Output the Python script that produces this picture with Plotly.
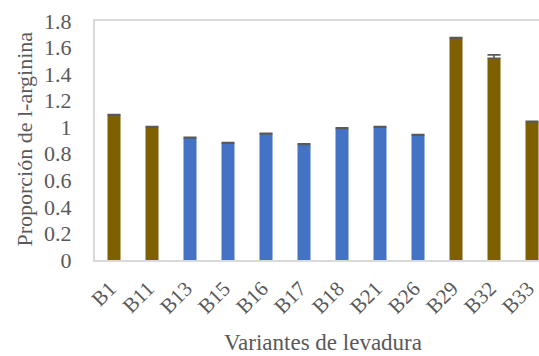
import plotly.graph_objects as go

# Yeast variants and l-arginine ratio (mean and upper error)
variantes = ["B1", "B11", "B13", "B15", "B16", "B17", "B18", "B21", "B26", "B29", "B32", "B33"]
proporcion = [1.09, 1.00, 0.92, 0.88, 0.95, 0.87, 0.99, 1.00, 0.94, 1.67, 1.52, 1.04]
error_sup = [0.005, 0.005, 0.005, 0.005, 0.005, 0.005, 0.005, 0.005, 0.005, 0.005, 0.025, 0.005]
grupo = ["m", "m", "c", "c", "c", "c", "c", "c", "c", "m", "m", "m"]

color_grupo = {"m": "#7F6000", "c": "#4472C4"}
colores = [color_grupo[g] for g in grupo]

y_ticks = [0, 0.2, 0.4, 0.6, 0.8, 1, 1.2, 1.4, 1.6, 1.8]
y_tick_text = ["0", "0.2", "0.4", "0.6", "0.8", "1", "1.2", "1.4", "1.6", "1.8"]

titulo_x = "Variantes de levadura"
titulo_y = "Proporción de l-arginina"

FONT = "Liberation Serif, Times New Roman, serif"
GRIS = "#595959"

fig = go.Figure(
    go.Bar(
        x=variantes,
        y=proporcion,
        marker=dict(color=colores, line=dict(width=0)),
        error_y=dict(
            type="data",
            symmetric=False,
            array=error_sup,
            arrayminus=[0] * len(error_sup),
            color=GRIS,
            thickness=1.6,
            width=6.5,
        ),
    )
)

fig.update_layout(
    width=539,
    height=356,
    margin=dict(l=95, r=0, t=21, b=96),
    paper_bgcolor="white",
    plot_bgcolor="white",
    bargap=0.658,
    showlegend=False,
    font=dict(family=FONT, color=GRIS, size=22),
)

fig.update_xaxes(
    range=[-0.5, 11.184],
    tickangle=-45,
    tickfont=dict(family=FONT, size=21, color=GRIS),
    showline=True,
    linecolor="#D9D9D9",
    linewidth=2,
    mirror=True,
    showgrid=False,
    ticks="",
    ticklabelstandoff=6,
    ticklabelshift=-4,
    automargin=False,
)

fig.update_yaxes(
    range=[0, 1.8],
    tickvals=y_ticks,
    ticktext=y_tick_text,
    tickfont=dict(family=FONT, size=22, color=GRIS),
    showline=True,
    linecolor="#D9D9D9",
    linewidth=2,
    showgrid=False,
    zeroline=False,
    ticks="",
    ticklabelstandoff=17,
    automargin=False,
)

# Axis titles placed as annotations relative to the plot area
fig.add_annotation(
    text=titulo_x, xref="paper", yref="paper", x=0.5135, y=-0.347,
    xanchor="center", yanchor="middle", showarrow=False,
    font=dict(family=FONT, size=23, color=GRIS),
)
fig.add_annotation(
    text=titulo_y, xref="paper", yref="paper", x=-0.1577, y=0.508,
    xanchor="center", yanchor="middle", textangle=-90, showarrow=False,
    font=dict(family=FONT, size=22, color=GRIS),
)

fig.write_html("out.html")
